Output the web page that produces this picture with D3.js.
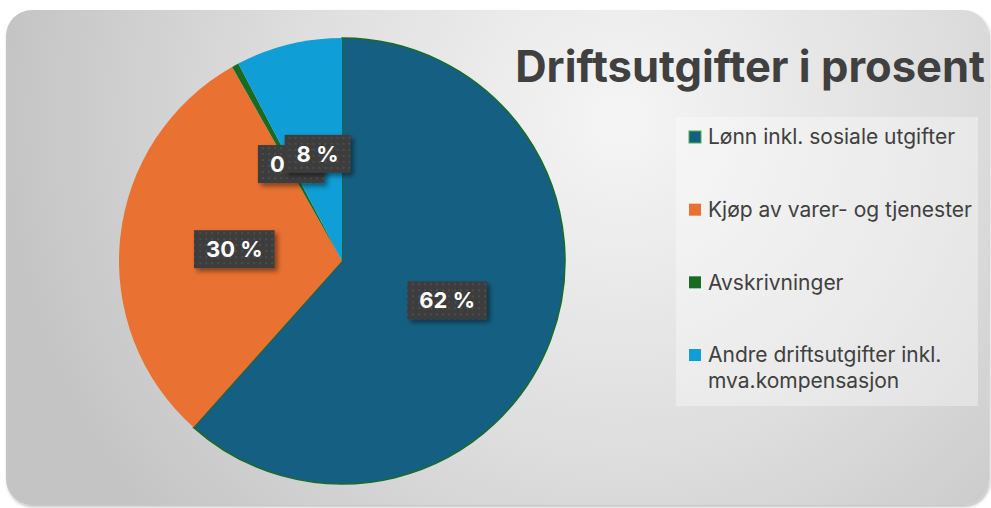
<!DOCTYPE html>
<html>
<head>
<meta charset="utf-8">
<script src="https://cdn.jsdelivr.net/npm/d3@7"></script>
<style>
  html, body { margin: 0; padding: 0; background: #fff; }
  svg { display: block; }
</style>
</head>
<body>
<script>
(function () {
    var width = 991;
    var height = 508;

    // data
    var categories = ["Lønn inkl. sosiale utgifter", "Kjøp av varer- og tjenester", "Avskrivninger", "Andre driftsutgifter inkl. mva.kompensasjon"];
    var values = [61.6, 30.2, 0.5, 7.7];
    var labels = ["62 %", "30 %", "0 %", "8 %"];
    var colors = ["#156082", "#E97132", "#196B24", "#0F9ED5"];
    var legendLines = [["Lønn inkl. sosiale utgifter"], ["Kjøp av varer- og tjenester"], ["Avskrivninger"], ["Andre driftsutgifter inkl.", "mva.kompensasjon"]];
    var title = "Driftsutgifter i prosent";

    var cx = 342, cy = 261, radius = 223;
    var font = "Inter, 'Open Sans', sans-serif";

    var svg = d3.select("body").append("svg")
        .attr("width", width)
        .attr("height", height);

    var defs = svg.append("defs");
    var grad = defs.append("radialGradient")
        .attr("id", "bg")
        .attr("gradientUnits", "userSpaceOnUse")
        .attr("cx", 620).attr("cy", 120).attr("r", 620);
    grad.append("stop").attr("offset", "0").attr("stop-color", "#f5f5f5");
    grad.append("stop").attr("offset", "0.55").attr("stop-color", "#dddddd");
    grad.append("stop").attr("offset", "1").attr("stop-color", "#c4c4c4");

    var shadow = defs.append("filter").attr("id", "shadow")
        .attr("x", "-30%").attr("y", "-30%").attr("width", "160%").attr("height", "160%");
    shadow.append("feDropShadow")
        .attr("dx", 3).attr("dy", 3).attr("stdDeviation", 2.5)
        .attr("flood-color", "#000").attr("flood-opacity", 0.45);

    var cardShadow = defs.append("filter").attr("id", "cardShadow")
        .attr("x", "-5%").attr("y", "-5%").attr("width", "110%").attr("height", "110%");
    cardShadow.append("feDropShadow")
        .attr("dx", 1).attr("dy", 2).attr("stdDeviation", 1.5)
        .attr("flood-color", "#000").attr("flood-opacity", 0.25);

    var pat = defs.append("pattern").attr("id", "dots")
        .attr("patternUnits", "userSpaceOnUse")
        .attr("width", 6).attr("height", 6);
    pat.append("rect").attr("width", 6).attr("height", 6).attr("fill", "#3c3c3c");
    pat.append("rect").attr("x", 1).attr("y", 1).attr("width", 2).attr("height", 2).attr("fill", "#4d4d4d");

    // card
    svg.append("rect")
        .attr("x", 6).attr("y", 10)
        .attr("width", 983).attr("height", 495)
        .attr("rx", 26).attr("ry", 26)
        .attr("fill", "url(#bg)")
        .attr("filter", "url(#cardShadow)");

    // pie
    var pie = d3.pie().sort(null).value(function (d) { return d; });
    var arcs = pie(values);
    var arc = d3.arc().innerRadius(0).outerRadius(radius);
    var labelArc = d3.arc().innerRadius(radius * 0.495).outerRadius(radius * 0.495);

    var g = svg.append("g").attr("transform", "translate(" + cx + "," + cy + ")");
    g.selectAll("path.slice")
        .data(arcs)
        .enter().append("path")
        .attr("class", "slice")
        .attr("d", arc)
        .attr("fill", function (d, i) { return colors[i]; })
        .attr("stroke", function (d, i) { return i === 0 ? "#196B24" : "none"; })
        .attr("stroke-width", 1.5);

    // data labels (the "0 %" label sits under the "8 %" label, as in Excel)
    var lab = g.selectAll("g.lab")
        .data(arcs)
        .enter().append("g")
        .attr("class", "lab")
        .attr("transform", function (d) {
            var c = labelArc.centroid(d);
            return "translate(" + (c[0] + 2) + "," + c[1] + ")";
        });
    lab.each(function (d, i) {
        var el = d3.select(this);
        var box = el.append("rect").attr("fill", "url(#dots)").attr("filter", "url(#shadow)");
        var t = el.append("text")
            .attr("text-anchor", "middle")
            .attr("dy", "0.36em")
            .style("font-family", font)
            .style("font-weight", 700)
            .style("font-size", "22px")
            .attr("fill", "#fff")
            .text(labels[i]);
        var w = t.node().getComputedTextLength() + 24;
        var h = 38;
        box.attr("x", -w / 2).attr("y", -h / 2).attr("width", w).attr("height", h);
    });

    // title
    var tt = svg.append("text")
        .attr("x", 985).attr("y", 82)
        .attr("text-anchor", "end")
        .style("font-family", font)
        .style("font-weight", 700)
        .style("font-size", "40px")
        .attr("fill", "#404040")
        .text(title);
    var tw = tt.node().getComputedTextLength();
    tt.style("font-size", (40 * 470 / tw) + "px");

    // legend
    svg.append("rect")
        .attr("x", 676).attr("y", 117)
        .attr("width", 302).attr("height", 289)
        .attr("fill", "#ffffff").attr("fill-opacity", 0.35);

    var legendY = d3.scalePoint()
        .domain(categories)
        .range([137, 355]);

    var items = svg.selectAll("g.leg")
        .data(categories)
        .enter().append("g")
        .attr("class", "leg")
        .attr("transform", function (d) { return "translate(689," + legendY(d) + ")"; });
    items.append("rect")
        .attr("x", 0).attr("y", -6)
        .attr("width", 12).attr("height", 12)
        .attr("fill", function (d, i) { return colors[i]; })
        .attr("stroke", function (d, i) { return i === 0 ? "#4caf50" : "none"; })
        .attr("stroke-width", 1);
    var legendTexts = [];
    items.each(function (d, i) {
        var t = d3.select(this).append("text")
            .attr("x", 19)
            .style("font-family", font)
            .style("font-size", "19px")
            .attr("fill", "#404040");
        legendLines[i].forEach(function (line, j) {
            t.append("tspan")
                .attr("x", 19)
                .attr("y", j * 26)
                .attr("dy", "0.35em")
                .text(line);
        });
        legendTexts.push(t);
    });
    // fit legend font to the width seen in the reference
    var lw = legendTexts[0].node().getComputedTextLength();
    var lsize = Math.min(21, 19 * 250 / lw);
    legendTexts.forEach(function (t) { t.style("font-size", lsize + "px"); });
})();
</script>
</body>
</html>
